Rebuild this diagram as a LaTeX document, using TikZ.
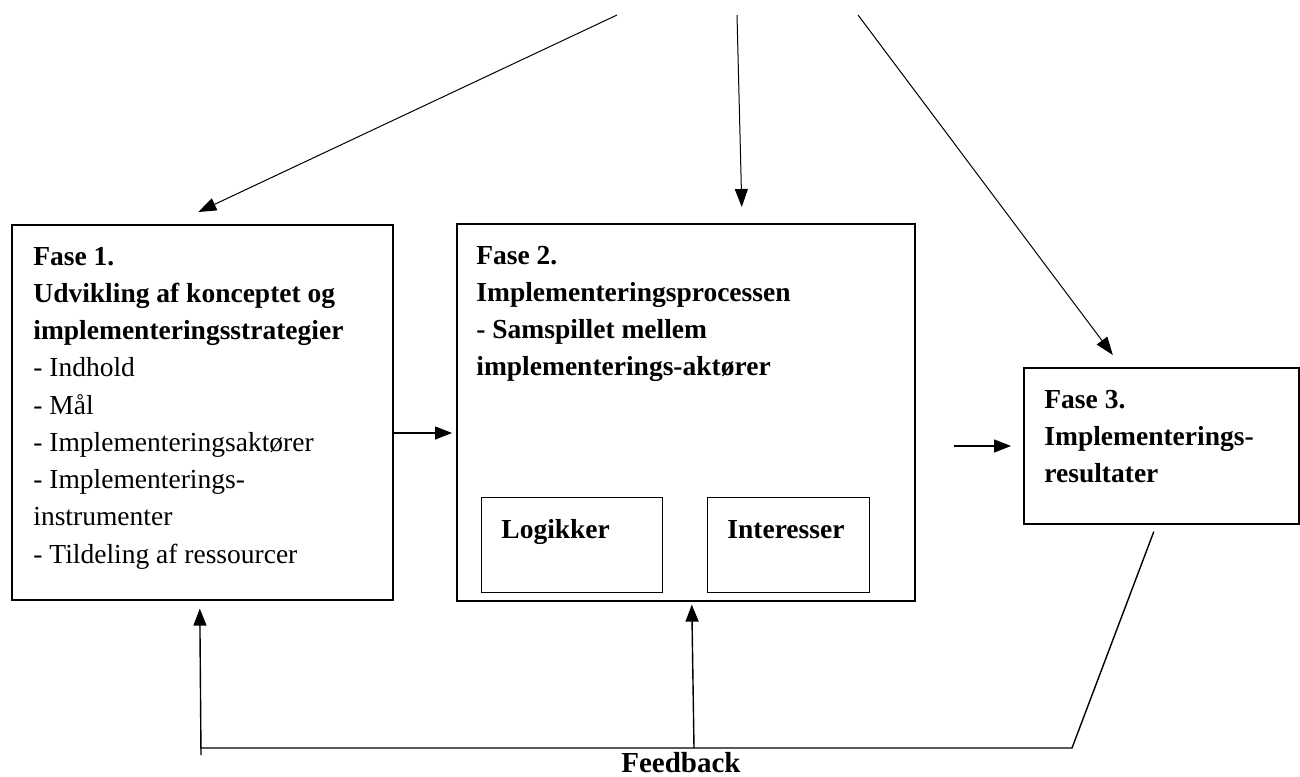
\documentclass[tikz,border=0pt]{standalone}
\usepackage{fontspec}
\setmainfont{Liberation Serif}
\usetikzlibrary{arrows.meta}

\begin{document}
\begin{tikzpicture}[x=1pt,y=-1pt,
  thick,fase box/.style={draw,line width=1.6pt,anchor=north west,inner sep=0pt},
  line txt/.style={anchor=base west,inner sep=0pt,font=\fontsize{27.5}{37}\selectfont},
  bold txt/.style={line txt,font=\bfseries\fontsize{27.5}{37}\selectfont},
  arr/.style={line width=1.4pt,-{Triangle[length=17pt,width=13pt]}},
  thin arr/.style={line width=1pt,-{Triangle[length=18pt,width=13pt]}}]

  \useasboundingbox (0,0) rectangle (1300,776);

  % boxes
  \node[fase box,minimum width=381pt,minimum height=375pt] (f1) at (11,224) {};
  \node[fase box,minimum width=458pt,minimum height=377pt] (f2) at (456,223) {};
  \node[fase box,minimum width=181pt,minimum height=95pt,line width=1.3pt] (log) at (481,497) {};
  \node[fase box,minimum width=162pt,minimum height=95pt,line width=1.3pt] (int) at (707,497) {};
  \node[fase box,minimum width=275pt,minimum height=156pt] (f3) at (1023,367) {};

  % texts
  \foreach \t [count=\i] in {\textbf{Fase 1.},\textbf{Udvikling af konceptet og},
      \textbf{implementeringsstrategier},- Indhold,- Mål,- Implementeringsaktører,
      - Implementerings-,instrumenter,- Tildeling af ressourcer}
    \node[line txt] (t1-\i) at (33,{265+37.25*(\i-1)}) {\t};
  \foreach \t [count=\i] in {Fase 2.,Implementeringsprocessen,- Samspillet mellem,
      implementerings-aktører}
    \node[bold txt] (t2-\i) at (476,{264+37.3*(\i-1)}) {\t};
  \foreach \t [count=\i] in {Fase 3.,Implementerings-,resultater}
    \node[bold txt] (t3-\i) at (1044,{408+37*(\i-1)}) {\t};
  \node[bold txt] (tlog) at (501,538) {Logikker};
  \node[bold txt] (tint) at (727,538) {Interesser};
  \node[anchor=base,inner sep=0pt,font=\bfseries\fontsize{29}{30}\selectfont] (fb) at (681,772) {Feedback};

  % arrows from the top
  \coordinate (top1) at (617,15);
  \coordinate (top2) at (737,15);
  \coordinate (top3) at (858,15);
  \draw[thin arr] (top1) -- ([xshift=-4pt,yshift=12pt]f1.north);
  \draw[thin arr] (top2) -- ([xshift=56pt,yshift=16pt]f2.north);
  \draw[thin arr] (top3) -- ([xshift=-48.5pt,yshift=12pt]f3.north);

  % between phases
  \draw[arr,shorten >=4pt] (f1.east |- 0,433) -- (f2.west |- 0,433);
  \draw[arr,shorten <=38pt,shorten >=12pt] (f2.east |- 0,446) -- (f3.west |- 0,446);

  % feedback
  \coordinate (fbL) at (201,748);
  \coordinate (fbR) at (1072,748);
  \coordinate (fbM) at (694,748);
  \draw[line width=1.4pt] ([xshift=-7.5pt,yshift=-7pt]f3.south) -- (fbR) -- (fbL);
  \draw[arr] ([yshift=-7pt]fbL) -- ([xshift=-2.5pt,yshift=-8pt]f1.south);
  \draw[arr] (fbM) -- ([xshift=6pt,yshift=-3pt]f2.south);
\end{tikzpicture}
\end{document}
